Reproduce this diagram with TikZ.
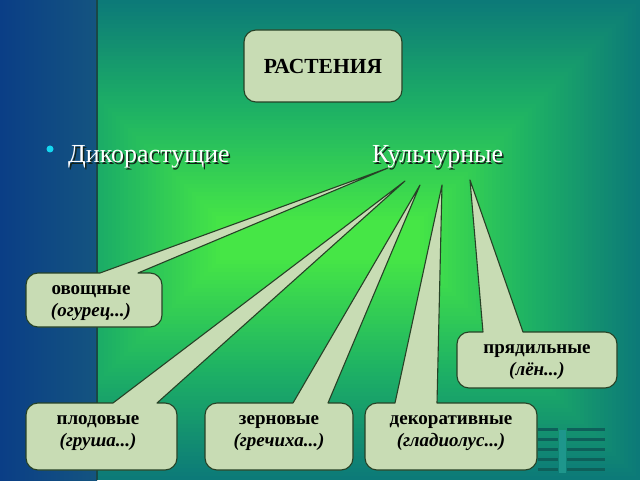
\documentclass[tikz,border=0pt]{standalone}
\usepackage{fontspec}
\setmainfont{Liberation Serif}
\definecolor{teal1}{RGB}{12,122,120}
\definecolor{mid1}{RGB}{30,178,100}
\definecolor{lime1}{RGB}{70,230,70}
\definecolor{blue1}{RGB}{10,62,134}
\definecolor{blue2}{RGB}{20,84,128}
\definecolor{sepline}{RGB}{25,72,70}
\definecolor{sage}{RGB}{200,220,180}
\definecolor{edgec}{RGB}{38,66,38}
\definecolor{bulletc}{RGB}{20,215,240}
\definecolor{barc}{RGB}{14,96,90}
\definecolor{barlight}{RGB}{30,150,140}
\definecolor{shadowc}{RGB}{20,35,25}
\tikzset{
  callout/.style={fill=sage, draw=edgec, line width=1.1pt, line join=round},
  maintext/.style={font=\fontsize{26}{29}\selectfont, text=white, inner sep=0pt, anchor=base west},
  mainshadow/.style={maintext, text=shadowc},
  ctext/.style={font=\fontsize{19}{22}\selectfont\bfseries, align=center, inner sep=0pt, text=black},
  titletext/.style={font=\fontsize{21.5}{24}\selectfont\bfseries, inner sep=0pt, text=black}
}
\newcommand\mycallout[7]{%
  \filldraw[callout] (#1+12,#4) -- (#5,#4) -- (#7) -- (#6,#4) -- (#2-12,#4)
    arc[start angle=90,end angle=0,radius=12pt] -- (#2,#3+12)
    arc[start angle=0,end angle=-90,radius=12pt] -- (#1+12,#3)
    arc[start angle=270,end angle=180,radius=12pt] -- (#1,#4-12)
    arc[start angle=180,end angle=90,radius=12pt] -- cycle;}
\begin{document}
\begin{tikzpicture}[x=1pt,y=1pt]
\useasboundingbox (0,0) rectangle (640,480);
% green rectangular gradient over the whole slide
\foreach \i in {0,...,59}{
  \pgfmathsetmacro\p{min(100,200*\i/55)}
  \pgfmathsetmacro\q{max(0,min(100,200*\i/55-100))}
  \fill[color=lime1!\q!mid1!\p!teal1] (4*\i,4*\i) rectangle (640-4*\i,480-4*\i);
}
% left blue band
\shade[left color=blue1, right color=blue2] (0,0) rectangle (97,480);
\draw[sepline, line width=1.5pt] (97,0) -- (97,480);
% decorative bars
\fill[barlight] (559,50) rectangle (566,7);
\foreach \y in {428,438,448,458,468}{
  \fill[barc] (538,480-\y) rectangle (558,477-\y);
  \fill[barc] (567,480-\y) rectangle (605,477-\y);
}
% title
\draw[callout, rounded corners=12pt] (244,378) rectangle (402,450);
\node[titletext] (title) at (323,414) {РАСТЕНИЯ};
% bullet and headings
\node[circle, fill=bulletc, inner sep=0pt, minimum size=7pt] (bul) at (50,331) {};
\node[mainshadow] (wildsh) at (69.5,315.5) {Дикорастущие};
\node[maintext] (wild) at (68,317) {Дикорастущие};
\node[mainshadow] (cultsh) at (373.5,315.5) {Культурные};
\node[maintext] (cult) at (372,317) {Культурные};
% tail tips
\coordinate (t1) at (388,312);
\coordinate (t2) at (405,299);
\coordinate (t3) at (420,295);
\coordinate (t4) at (442,295);
\coordinate (t5) at (470,300);
% callouts
\mycallout{26}{162}{153}{207}{100}{138}{t1}
\node[ctext] (veg) at (91,176.5) {овощные\\\textit{(огурец...)}};
\mycallout{26}{177}{10}{77}{113}{157}{t2}
\node[ctext] (fruit) at (98,46.5) {плодовые\\\textit{(груша...)}};
\mycallout{205}{353}{10}{77}{293}{328}{t3}
\node[ctext] (grain) at (279,46.5) {зерновые\\\textit{(гречиха...)}};
\mycallout{365}{537}{10}{77}{395}{437}{t4}
\node[ctext] (decor) at (451,46.5) {декоративные\\\textit{(гладиолус...)}};
\mycallout{457}{617}{92}{148}{483}{523}{t5}
\node[ctext] (fibre) at (537,117.5) {прядильные\\\textit{(лён...)}};
\end{tikzpicture}
\end{document}
